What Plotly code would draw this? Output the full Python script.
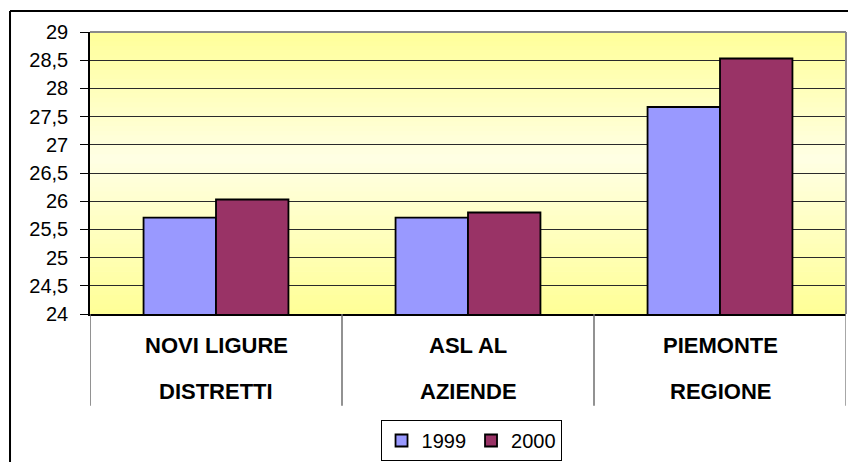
import plotly.graph_objects as go

# ---- data ----
areas = ["NOVI LIGURE", "ASL AL", "PIEMONTE"]
levels = ["DISTRETTI", "AZIENDE", "REGIONE"]
series_names = ["1999", "2000"]
values_1999 = [25.71, 25.71, 27.67]
values_2000 = [26.03, 25.80, 28.53]
y_ticks = [24, 24.5, 25, 25.5, 26, 26.5, 27, 27.5, 28, 28.5, 29]

FONT = "Liberation Sans, Arial, sans-serif"
colors = ["#9999FF", "#993366"]

fig = go.Figure()
for name, vals, col in zip(series_names, [values_1999, values_2000], colors):
    fig.add_trace(go.Bar(
        x=areas, y=vals, name=name,
        marker=dict(color=col, line=dict(color="black", width=1.8)),
    ))

shapes = []
# gradient background (style only)
N = 60
def shade(t):
    # t: 0 bottom -> 1 top
    if t >= 0.55:
        f = (t - 0.55) / 0.45
        b = 228 + (153 - 228) * f
    else:
        f = (0.55 - t) / 0.55
        b = 228 + (150 - 228) * f
    return "rgb(255,255,%d)" % round(b)
for i in range(N):
    y0 = i / N
    y1 = (i + 1) / N
    shapes.append(dict(type="rect", xref="paper", yref="paper", x0=0, x1=1,
                       y0=y0, y1=y1 + 0.002, fillcolor=shade((y0 + y1) / 2),
                       line=dict(width=0), layer="below"))

# plot-area border (top and right, gray)
shapes.append(dict(type="line", xref="paper", yref="paper", x0=0, x1=1, y0=1, y1=1,
                   line=dict(color="#8a8a8a", width=2)))
# category dividers
for k in range(len(areas) + 1):
    shapes.append(dict(type="line", xref="x", yref="paper", x0=k - 0.5, x1=k - 0.5,
                       y0=0, y1=-0.325,
                       line=dict(color="#6e6e6e" if k < len(areas) else "#8a8a8a", width=1.5)))
shapes.append(dict(type="line", xref="paper", yref="paper", x0=1, x1=1, y0=0, y1=1,
                   line=dict(color="#8a8a8a", width=2)))
# outer chart frame
shapes.append(dict(type="line", xref="paper", yref="paper", x0=-0.1058, x1=-0.1058,
                   y0=-0.7, y1=1.0742, line=dict(color="black", width=2)))
shapes.append(dict(type="line", xref="paper", yref="paper", x0=-0.1058, x1=1.01,
                   y0=1.0742, y1=1.0742, line=dict(color="black", width=2)))

annotations = []
for a, lv in zip(areas, levels):
    annotations.append(dict(x=a, xref="x", y=-0.110, yref="paper", text="<b>%s</b>" % a,
                            showarrow=False, yanchor="middle",
                            font=dict(family=FONT, size=22, color="black")))
    annotations.append(dict(x=a, xref="x", y=-0.274, yref="paper", text="<b>%s</b>" % lv,
                            showarrow=False, yanchor="middle",
                            font=dict(family=FONT, size=22, color="black")))

fig.update_layout(
    width=848, height=462,
    margin=dict(l=90, r=2, t=32, b=147, pad=0),
    paper_bgcolor="white", plot_bgcolor="#FFFFCC",
    separators=",.",
    barmode="group", bargap=0.425, bargroupgap=0,
    font=dict(family=FONT, color="black"),
    shapes=shapes, annotations=annotations,
    showlegend=True,
    legend=dict(orientation="h", x=0.504, xanchor="center", y=-0.371, yanchor="top",
                bordercolor="black", borderwidth=1, bgcolor="white",
                font=dict(family=FONT, size=20), itemwidth=30,
                traceorder="normal"),
    xaxis=dict(type="category", range=[-0.5, 2.5], showticklabels=False,
               showgrid=False, showline=True, linecolor="black", linewidth=1.5,
               ticks="", zeroline=False, fixedrange=True),
    yaxis=dict(range=[24, 29], tickvals=y_ticks, showgrid=True,
               gridcolor="#2a2a2a", gridwidth=1, showline=True, linecolor="black",
               linewidth=1.5, ticks="outside", ticklen=8, tickcolor="black",
               tickfont=dict(family=FONT, size=20, color="black"),
               ticklabelstandoff=8, zeroline=False, fixedrange=True),
)

fig.write_html("out.html", config={"displayModeBar": False},
               post_script="document.body.style.margin='0';document.body.style.overflow='hidden';")
